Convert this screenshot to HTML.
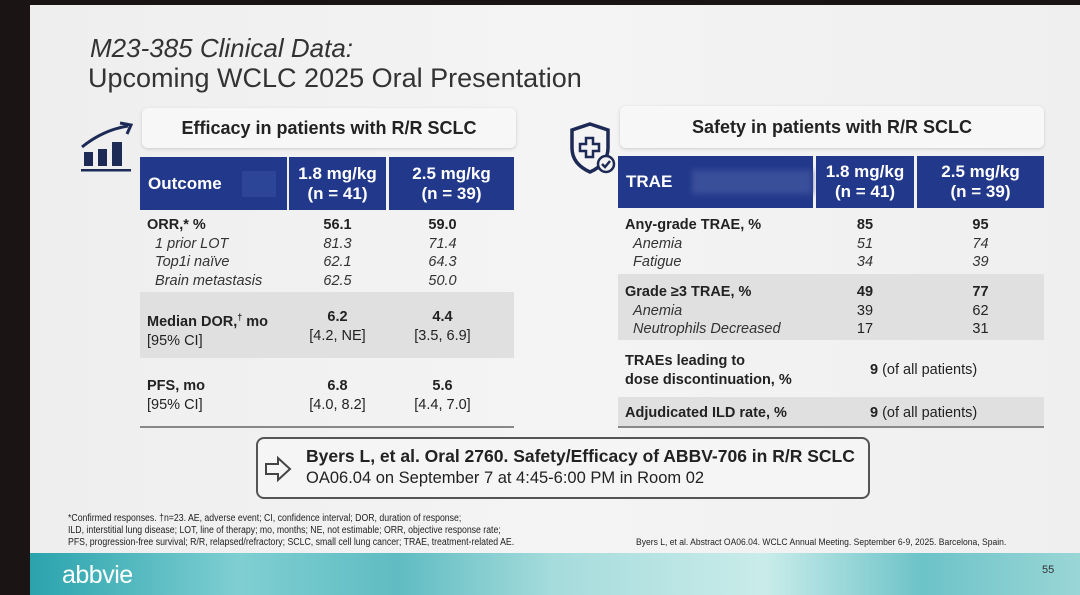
<!DOCTYPE html>
<html><head><meta charset="utf-8"><style>
*{margin:0;padding:0;box-sizing:border-box}
body{width:1080px;height:595px;overflow:hidden;background:#1a1414;font-family:"Liberation Sans",Arial,sans-serif;position:relative}
#slide{position:absolute;left:30px;top:5px;width:1050px;height:590px;background:linear-gradient(90deg,#eeeeee,#f4f4f4 50%,#efefef)}
.a{position:absolute;white-space:nowrap}
.hd{background:#22388a;color:#fff;font-weight:bold;font-size:17px;text-align:center;line-height:20px;display:flex;align-items:center;justify-content:center}
.g{background:#e0e0e0}
.b{font-weight:bold}
.i{font-style:italic;color:#333}
.t{font-size:14.5px;color:#222}
</style></head><body>
<div id="slide"></div>
<div class="a" style="left:90px;top:33px;font-size:26px;font-style:italic;color:#333">M23-385 Clinical Data:</div>
<div class="a" style="left:88px;top:63px;font-size:27px;color:#333">Upcoming WCLC 2025 Oral Presentation</div>

<svg class="a" style="left:78px;top:120px" width="56" height="56"><path d="M4 27 Q25 10 50 6" stroke="#1d2a55" stroke-width="3" fill="none"/><path d="M42 3 L53 5 L49 14" stroke="#1d2a55" stroke-width="3" fill="none"/><rect x="6" y="32" width="9" height="14" fill="#1d2a55"/><rect x="20" y="29" width="9" height="17" fill="#1d2a55"/><rect x="34" y="22" width="10" height="24" fill="#1d2a55"/><rect x="3" y="49" width="50" height="2.5" fill="#1d2a55"/></svg>
<svg class="a" style="left:566px;top:120px" width="52" height="56"><path d="M24 4 L42 10 L42 28 Q42 44 24 52 Q6 44 6 28 L6 10 Z" fill="none" stroke="#1d2a55" stroke-width="3.5"/><path d="M20 18h7v6h6v7h-6v6h-7v-6h-6v-7h6z" fill="none" stroke="#1d2a55" stroke-width="2.5"/><circle cx="40" cy="44" r="8" fill="#f2f2f2" stroke="#1d2a55" stroke-width="2.5"/><path d="M36 44l3 3 5-6" stroke="#1d2a55" stroke-width="2.5" fill="none"/></svg>

<div class="a" style="left:142px;top:108px;width:374px;height:40px;background:#f7f7f7;border-radius:6px;box-shadow:0 1px 3px #ccc;font-size:18px;font-weight:bold;text-align:center;line-height:40px;color:#222">Efficacy in patients with R/R SCLC</div>
<div class="a hd" style="left:140px;top:157px;width:147px;height:53px;justify-content:flex-start;padding-left:8px">Outcome<span style="display:inline-block;width:34px;height:26px;background:#2d4596;margin-left:20px"></span></div>
<div class="a hd" style="left:289px;top:157px;width:97px;height:53px">1.8 mg/kg<br>(n = 41)</div>
<div class="a hd" style="left:389px;top:157px;width:125px;height:53px">2.5 mg/kg<br>(n = 39)</div>
<div class="a g" style="left:140px;top:292px;width:374px;height:66px"></div>
<div class="a" style="left:140px;top:426px;width:374px;height:1.5px;background:#888"></div>
<div class="a t" style="left:147px;top:216px;line-height:18.5px"><b>ORR,* %</b><br><span class="i">&nbsp;&nbsp;1 prior LOT<br>&nbsp;&nbsp;Top1i naïve<br>&nbsp;&nbsp;Brain metastasis</span></div>
<div class="a t" style="left:289px;width:97px;text-align:center;top:216px;line-height:18.5px"><b>56.1</b><br><span class="i">81.3<br>62.1<br>62.5</span></div>
<div class="a t" style="left:389px;width:107px;text-align:center;top:216px;line-height:18.5px"><b>59.0</b><br><span class="i">71.4<br>64.3<br>50.0</span></div>
<div class="a t" style="left:147px;top:308px;line-height:19px"><b>Median DOR,<sup style="font-size:9px">†</sup> mo</b><br>[95% CI]</div>
<div class="a t" style="left:289px;width:97px;text-align:center;top:308px;line-height:19px"><b>6.2</b><br>[4.2, NE]</div>
<div class="a t" style="left:389px;width:107px;text-align:center;top:308px;line-height:19px"><b>4.4</b><br>[3.5, 6.9]</div>
<div class="a t" style="left:147px;top:377px;line-height:19px"><b>PFS, mo</b><br>[95% CI]</div>
<div class="a t" style="left:289px;width:97px;text-align:center;top:377px;line-height:19px"><b>6.8</b><br>[4.0, 8.2]</div>
<div class="a t" style="left:389px;width:107px;text-align:center;top:377px;line-height:19px"><b>5.6</b><br>[4.4, 7.0]</div>

<div class="a" style="left:620px;top:106px;width:424px;height:42px;background:#f7f7f7;border-radius:6px;box-shadow:0 1px 3px #ccc;font-size:18px;font-weight:bold;text-align:center;line-height:42px;color:#222">Safety in patients with R/R SCLC</div>
<div class="a hd" style="left:618px;top:156px;width:195px;height:52px;justify-content:flex-start;padding-left:8px">TRAE<span style="display:inline-block;width:120px;height:24px;background:#3a4f9a;margin-left:20px;filter:blur(3px)"></span></div>
<div class="a hd" style="left:816px;top:156px;width:98px;height:52px">1.8 mg/kg<br>(n = 41)</div>
<div class="a hd" style="left:917px;top:156px;width:127px;height:52px">2.5 mg/kg<br>(n = 39)</div>
<div class="a g" style="left:618px;top:274px;width:426px;height:66px"></div>
<div class="a g" style="left:618px;top:397px;width:426px;height:30px"></div>
<div class="a" style="left:618px;top:426px;width:426px;height:1.5px;background:#888"></div>
<div class="a t" style="left:625px;top:216px;line-height:18.5px"><b>Any-grade TRAE, %</b><br><span class="i">&nbsp;&nbsp;Anemia<br>&nbsp;&nbsp;Fatigue</span></div>
<div class="a t" style="left:816px;width:98px;text-align:center;top:216px;line-height:18.5px"><b>85</b><br><span class="i">51<br>34</span></div>
<div class="a t" style="left:917px;width:127px;text-align:center;top:216px;line-height:18.5px"><b>95</b><br><span class="i">74<br>39</span></div>
<div class="a t" style="left:625px;top:283px;line-height:18.5px"><b>Grade ≥3 TRAE, %</b><br><span class="i">&nbsp;&nbsp;Anemia<br>&nbsp;&nbsp;Neutrophils Decreased</span></div>
<div class="a t" style="left:816px;width:98px;text-align:center;top:283px;line-height:18.5px"><b>49</b><br>39<br>17</div>
<div class="a t" style="left:917px;width:127px;text-align:center;top:283px;line-height:18.5px"><b>77</b><br>62<br>31</div>
<div class="a t b" style="left:625px;top:352px;line-height:19px">TRAEs leading to<br>dose discontinuation, %</div>
<div class="a t" style="left:870px;top:362px"><b>9</b> (of all patients)</div>
<div class="a t b" style="left:625px;top:405px">Adjudicated ILD rate, %</div>
<div class="a t" style="left:870px;top:405px"><b>9</b> (of all patients)</div>

<div class="a" style="left:256px;top:437px;width:614px;height:62px;border:2px solid #555;border-radius:8px;background:#f5f5f5"></div>
<svg class="a" style="left:263px;top:455px" width="30" height="28"><path d="M3 9h12V3l12 11-12 11v-6H3z" fill="none" stroke="#444" stroke-width="2"/></svg>
<div class="a" style="left:306px;top:446px;font-size:17.5px;font-weight:bold;color:#222">Byers L, et al. Oral 2760. Safety/Efficacy of ABBV-706 in R/R SCLC</div>
<div class="a" style="left:306px;top:469px;font-size:16.5px;color:#222">OA06.04 on September 7 at 4:45-6:00 PM in Room 02</div>

<div class="a" style="left:68px;top:513px;font-size:9.7px;line-height:12px;color:#222;transform:scaleX(0.9);transform-origin:left">*Confirmed responses. †n=23. AE, adverse event; CI, confidence interval; DOR, duration of response;<br>ILD, interstitial lung disease; LOT, line of therapy; mo, months; NE, not estimable; ORR, objective response rate;<br>PFS, progression-free survival; R/R, relapsed/refractory; SCLC, small cell lung cancer; TRAE, treatment-related AE.</div>
<div class="a" style="left:636px;top:537px;font-size:9.5px;color:#222;transform:scaleX(0.9);transform-origin:left">Byers L, et al. Abstract OA06.04. WCLC Annual Meeting. September 6-9, 2025. Barcelona, Spain.</div>

<div class="a" style="left:30px;top:553px;width:1050px;height:42px;background:linear-gradient(90deg,#2aa3ad,#7fcfd2 20%,#5fbcc2 35%,#a6dcdc 50%,#c9ecea 70%,#6cc3c8 85%,#9ad6d6)"></div>
<div class="a" style="left:62px;top:561px;font-size:25px;color:#fff;letter-spacing:-0.5px">abbvie</div>
<div class="a" style="left:1042px;top:564px;font-size:11px;color:#333">55</div>
</body></html>
